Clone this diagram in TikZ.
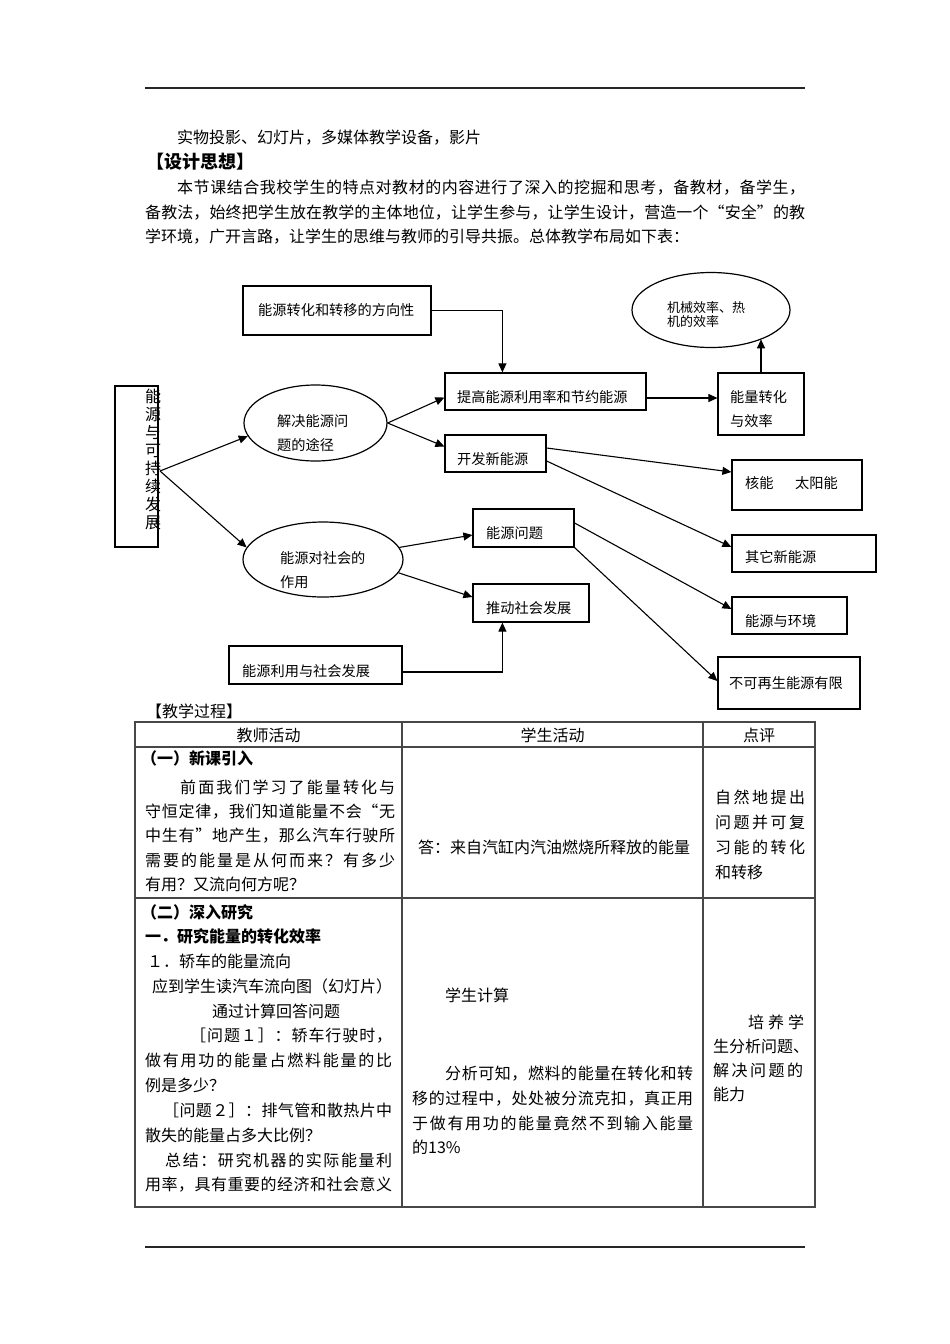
\documentclass[tikz,border=0pt]{standalone}
\usepackage{fontspec}
\setmainfont{Noto Sans CJK SC}
\usetikzlibrary{arrows.meta,shapes.geometric,calc}
\newcommand\fsz[1]{\fontsize{#1pt}{#1pt}\selectfont}
\newcommand\fsl[2]{\fontsize{#1pt}{#2pt}\selectfont}
\ExplSyntaxOn
\NewDocumentCommand\spreadto{mm}{\makebox[#1pt][s]{\tl_map_inline:nn{#2}{##1\hfil}\unskip}}
\ExplSyntaxOff
\tikzset{
  box/.style={draw, line width=1.2pt, rectangle, inner sep=0pt},
  oval/.style={draw, line width=1.2pt, ellipse, inner sep=0pt},
  arr/.style={-{Triangle[length=9pt,width=8pt]}, line width=1.1pt},
  dt/.style={inner sep=0pt, anchor=west, font=\fsz{14.2}},
  dtl/.style={inner sep=0pt, anchor=west, align=left, font=\fsl{14.2}{24}},
  bt/.style={inner sep=0pt, anchor=west, font=\fsz{16}},
  bb/.style={inner sep=0pt, anchor=west, font=\fsz{16}\bfseries},
  tl/.style={line width=1.2pt, draw=black!72},
  rule/.style={line width=1.7pt, draw=black!85},
}
\begin{document}
\begin{tikzpicture}[x=1pt,y=-1pt]
\useasboundingbox (0,0) rectangle (950,1344);
\fill[white] (0,0) rectangle (950,1344);

% header/footer rules
\draw[rule] (145,88) -- (805,88);
\draw[rule] (145,1247) -- (805,1247);

% top text
\node[bt] (p0) at (177,137.5) {实物投影、幻灯片，多媒体教学设备，影片};
\node[inner sep=0pt, anchor=west, font=\fsz{18}\bfseries] (h0) at (146,161.5) {【设计思想】};
\node[bt] (p1) at (177,187.5) {\spreadto{628}{本节课结合我校学生的特点对教材的内容进行了深入的挖掘和思考，备教材，备学生，}};
\node[bt] (p2) at (145,212.5) {\spreadto{660}{备教法，始终把学生放在教学的主体地位，让学生参与，让学生设计，营造一个“安全”的教}};
\node[bt] (p3) at (145,237) {学环境，广开言路，让学生的思维与教师的引导共振。总体教学布局如下表：};

% ===== diagram =====
\node[box, minimum width=188pt, minimum height=49pt] (zhuanhua) at (337,310.5) {};
\node[box, minimum width=43pt, minimum height=161pt] (left) at (136.5,466.5) {};
\node[box, minimum width=201pt, minimum height=37pt] (tigao) at (545.5,391.5) {};
\node[box, minimum width=101pt, minimum height=37pt] (kaifa) at (495.5,453.5) {};
\node[box, minimum width=86pt, minimum height=62pt] (nengliang) at (761,404) {};
\node[box, minimum width=130pt, minimum height=50pt] (heneng) at (797,485) {};
\node[box, minimum width=144pt, minimum height=37pt] (qita) at (804,553.5) {};
\node[box, minimum width=101pt, minimum height=38pt] (wenti) at (523.5,528) {};
\node[box, minimum width=116pt, minimum height=38pt] (tuidong) at (531,603) {};
\node[box, minimum width=173pt, minimum height=38pt] (liyong) at (315.5,665) {};
\node[box, minimum width=115pt, minimum height=37pt] (huanjing) at (789.5,615.5) {};
\node[box, minimum width=142pt, minimum height=52pt] (bukezai) at (789,683) {};

\node[oval, minimum width=143pt, minimum height=76pt] (e1) at (315.5,423) {};
\node[oval, minimum width=160pt, minimum height=75pt] (e2) at (323,559.5) {};
\node[oval, minimum width=158pt, minimum height=75pt] (e3) at (711,310) {};

% diagram texts
\node[dt] (zhuanhuat) at (258,310) {能源转化和转移的方向性};
\node[inner sep=0pt, align=center, font=\fsl{16}{17.9}] (leftt) at (153,459.5) {能\\源\\与\\可\\持\\续\\发\\展};
\node[dtl] (e1t) at (277,433) {解决能源问\\题的途径};
\node[dtl] (e2t) at (280,570) {能源对社会的\\作用};
\node[inner sep=0pt, anchor=west, align=left, font=\fsl{13}{14}] (e3t) at (667,315) {机械效率、热\\机的效率};
\node[dt] (tigaot) at (457,397) {提高能源利用率和节约能源};
\node[dt] (kaifat) at (457,459) {开发新能源};
\node[dtl] (nengliangt) at (730,409) {能量转化\\与效率};
\node[dt] (henengt) at (745,483.5) {核能};
\node[dt] (taiyangt) at (795,483.5) {太阳能};
\node[dt] (qitat) at (745,557.5) {其它新能源};
\node[dt] (wentit) at (486,533) {能源问题};
\node[dt] (tuidongt) at (486,608) {推动社会发展};
\node[dt] (liyongt) at (242,671.5) {能源利用与社会发展};
\node[dt] (huanjingt) at (745,621) {能源与环境};
\node[dt] (bukezait) at (729,683) {不可再生能源有限};

% connectors
\coordinate (hub) at (160,471);
\draw[arr] (hub) -- (e1.191);
\draw[arr] (hub) -- (e2.171);
\draw[arr] (e1.east) -- ($(tigao.west)+(0,6)$);
\draw[arr] (e1.east) -- ($(kaifa.west)+(0,-7)$);
\draw[arr] ($(tigao.east)+(0,6.5)$) -- ($(nengliang.west)+(0,-6)$);
\draw[arr] (nengliang.north) -- (nengliang.north |- e3.-30);
\draw[arr] (zhuanhua.east) -| ($(tigao.north west)+(58,0)$);
\draw[arr] ($(kaifa.east)+(0,-5.5)$) -- ($(heneng.west)+(0,-13)$);
\draw[arr] ($(kaifa.east)+(0,7.5)$) -- ($(qita.west)+(0,-6.5)$);
\draw[arr] (e2.9) -- ($(wenti.west)+(0,7)$);
\draw[arr] (e2.-10) -- ($(tuidong.west)+(0,-6)$);
\draw[arr] ($(liyong.east)+(0,7)$) -| ($(tuidong.south west)+(30,0)$);
\draw[arr] ($(wenti.east)+(0,-5)$) -- ($(huanjing.west)+(0,-6.5)$);
\draw[arr] (wenti.south east) -- ($(bukezai.west)+(0,-2)$);

% ===== table =====
\node[bt] (jxgc) at (146,711) {【教学过程】};
\draw[tl] (135,722) rectangle (815,1207);
\draw[tl] (135,747) -- (815,747);
\draw[tl] (135,898) -- (815,898);
\draw[tl] (402,722) -- (402,1207);
\draw[tl] (703,722) -- (703,1207);

\node[bt, anchor=center] (th1) at (268.5,735) {教师活动};
\node[bt, anchor=center] (th2) at (552.5,735) {学生活动};
\node[bt, anchor=center] (th3) at (759,735) {点评};

% row 1
\node[bb] (a1) at (141,758) {（一）新课引入};
\node[bt] (a2) at (180,787) {\spreadto{215}{前面我们学习了能量转化与}};
\node[bt] (a3) at (145,811.5) {\spreadto{250}{守恒定律，我们知道能量不会“无}};
\node[bt] (a4) at (145,836) {\spreadto{250}{中生有”地产生，那么汽车行驶所}};
\node[bt] (a5) at (145,860) {\spreadto{250}{需要的能量是从何而来？有多少}};
\node[bt] (a6) at (145,884.5) {有用？又流向何方呢？};
\node[bt] (b1) at (418,847) {答：来自汽缸内汽油燃烧所释放的能量};
\node[bt] (c1) at (715,797) {\spreadto{90}{自然地提出}};
\node[bt] (c2) at (715,822) {\spreadto{90}{问题并可复}};
\node[bt] (c3) at (715,847) {\spreadto{90}{习能的转化}};
\node[bt] (c4) at (715,872) {和转移};

% row 2
\node[bb] (d1) at (141,912) {（二）深入研究};
\node[bb] (d2) at (145,936.8) {一．研究能量的转化效率};
\node[bt] (d3) at (147,961.6) {１．轿车的能量流向};
\node[bt] (d4) at (152,986.4) {应到学生读汽车流向图（幻灯片）};
\node[bt] (d5) at (212,1011.2) {通过计算回答问题};
\node[bt] (d6) at (190,1036) {\spreadto{202}{［问题１］：轿车行驶时，}};
\node[bt] (d7) at (145,1060.8) {\spreadto{247}{做有用功的能量占燃料能量的比}};
\node[bt] (d8) at (145,1085.6) {例是多少？};
\node[bt] (d9) at (163,1110.4) {\spreadto{229}{［问题２］：排气管和散热片中}};
\node[bt] (d10) at (145,1135.2) {散失的能量占多大比例？};
\node[bt] (d11) at (165,1160) {\spreadto{227}{总结：研究机器的实际能量利}};
\node[bt] (d12) at (145,1184.8) {\spreadto{247}{用率，具有重要的经济和社会意义}};

\node[bt] (m1) at (445,995) {学生计算};
\node[bt] (m2) at (445,1074) {\spreadto{248}{分析可知，燃料的能量在转化和转}};
\node[bt] (m3) at (412,1098.5) {\spreadto{281}{移的过程中，处处被分流克扣，真正用}};
\node[bt] (m4) at (412,1123) {\spreadto{281}{于做有用功的能量竟然不到输入能量}};
\node[bt] (m5) at (412,1147.5) {的13\%};

\node[bt] (r1) at (748,1022) {\spreadto{56}{培养学}};
\node[bt] (r2) at (713,1046) {生分析问题、};
\node[bt] (r3) at (713,1070) {\spreadto{90}{解决问题的}};
\node[bt] (r4) at (713,1094) {能力};
\end{tikzpicture}
\end{document}
